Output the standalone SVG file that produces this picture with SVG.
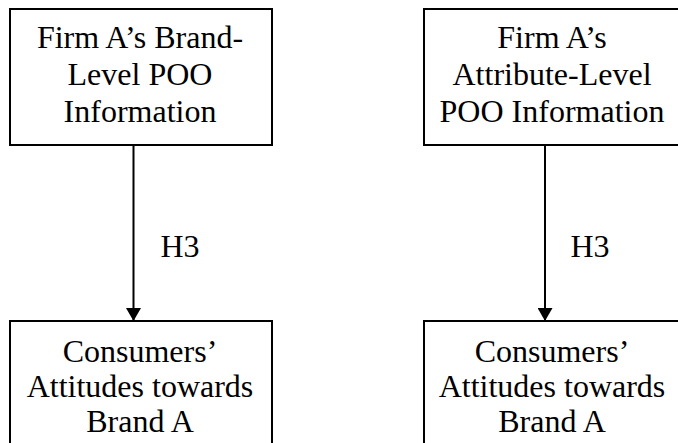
<svg xmlns="http://www.w3.org/2000/svg" width="678" height="443" viewBox="0 0 678 443">
  <style>
    .box { fill: #ffffff; stroke: #000000; stroke-width: 2; }
    text { font-family: 'Liberation Serif', 'Times New Roman', 'DejaVu Serif', serif; font-size: 32px; fill: #000000; text-anchor: middle; }
    .edge { stroke: #000000; stroke-width: 2; fill: none; }
  </style>
  <defs>
    <marker id="arrow" markerWidth="13" markerHeight="15" refX="13" refY="7.5" orient="auto" markerUnits="userSpaceOnUse">
      <path d="M0,0 L13,7.5 L0,15 Z" fill="#000000"/>
    </marker>
  </defs>
  <rect width="678" height="443" fill="#ffffff"/>

  <g id="brand-level">
    <rect class="box" x="10" y="9" width="262" height="136"/>
    <text x="140" y="48">Firm A’s Brand-</text>
    <text x="140" y="85">Level POO</text>
    <text x="140" y="122">Information</text>
  </g>

  <g id="attribute-level">
    <rect class="box" x="424" y="9" width="262" height="136"/>
    <text x="552" y="48">Firm A’s</text>
    <text x="552" y="85">Attribute-Level</text>
    <text x="552" y="122">POO Information</text>
  </g>

  <g id="attitudes-left">
    <rect class="box" x="10" y="321" width="262" height="140"/>
    <text x="140" y="362">Consumers’</text>
    <text x="140" y="397">Attitudes towards</text>
    <text x="140" y="432">Brand A</text>
  </g>

  <g id="attitudes-right">
    <rect class="box" x="424" y="321" width="262" height="140"/>
    <text x="552" y="362">Consumers’</text>
    <text x="552" y="397">Attitudes towards</text>
    <text x="552" y="432">Brand A</text>
  </g>

  <g id="connectors">
    <line class="edge" x1="133.5" y1="145" x2="133.5" y2="321" marker-end="url(#arrow)"/>
    <text x="180" y="257">H3</text>
    <line class="edge" x1="545" y1="145" x2="545" y2="321" marker-end="url(#arrow)"/>
    <text x="590" y="257">H3</text>
  </g>
</svg>
